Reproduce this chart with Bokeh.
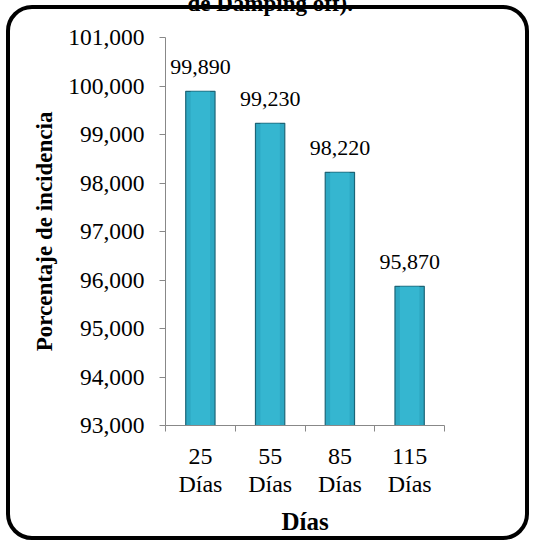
from bokeh.plotting import figure
from bokeh.models import (Range1d, FixedTicker, CustomJSTickFormatter, ColumnDataSource,
                          LabelSet, InlineStyleSheet)
from bokeh.embed import file_html
from bokeh.resources import INLINE

days = ["25", "55", "85", "115"]
day_labels = ["25\nDías", "55\nDías", "85\nDías", "115\nDías"]
incidence = [99.89, 99.23, 98.22, 95.87]
y_ticks = [93, 94, 95, 96, 97, 98, 99, 100, 101]
title_tail = "de Damping off)."

xs = list(range(1, len(days) + 1))
labels = [f"{v:.3f}".replace(".", ",") for v in incidence]
src = ColumnDataSource(dict(x=xs, y=incidence, lab=labels))

FONT = "Liberation Serif"
SHIFT = 37  # part of the canvas pushed above the window (cut-off title)

p = figure(width=534, height=542 + SHIFT, output_backend="svg", toolbar_location=None,
           x_range=Range1d(0.5, len(days) + 0.5), y_range=Range1d(93, 101),
           min_border_left=165, min_border_right=90, min_border_top=37 + SHIFT,
           min_border_bottom=117, title=title_tail)
p.outline_line_color = None
p.grid.visible = False
p.background_fill_color = "white"
p.border_fill_color = "white"

p.title.align = "left"
p.title.offset = 22
p.title.standoff = 43
p.title.text_font = FONT
p.title.text_font_style = "bold"
p.title.text_font_size = "23px"
p.title.text_color = "black"

p.vbar(x="x", top="y", bottom=93, width=0.42, source=src,
       fill_color="#2DA8C3", line_color="#1C6577", line_width=1.2)
p.vbar(x="x", top="y", bottom=93, width=0.28, source=src,
       fill_color="#3EC4DE", line_color=None, fill_alpha=0.5)

p.add_layout(LabelSet(x="x", y="y", text="lab", source=src, text_align="center",
                      text_baseline="bottom", y_offset=17, text_font=FONT,
                      text_font_size="22px", text_color="black"))

# y axis
ya = p.yaxis[0]
ya.ticker = FixedTicker(ticks=y_ticks)
ya.formatter = CustomJSTickFormatter(code="return tick.toFixed(3).replace('.', ',');")
ya.axis_label = "Porcentaje de incidencia"
ya.axis_label_text_font = FONT
ya.axis_label_text_font_style = "bold"
ya.axis_label_text_font_size = "23px"
ya.axis_label_text_color = "black"
ya.axis_label_standoff = 8
ya.major_label_text_font = FONT
ya.major_label_text_font_size = "23.5px"
ya.major_label_text_color = "black"
ya.major_label_standoff = 15
ya.axis_line_color = "#888888"
ya.major_tick_line_color = "#888888"
ya.major_tick_out = 6
ya.major_tick_in = 0
ya.minor_tick_line_color = None

# x axis
xa = p.xaxis[0]
xa.ticker = FixedTicker(ticks=xs, minor_ticks=[i + 0.5 for i in range(len(days) + 1)])
xa.major_label_overrides = {x: l for x, l in zip(xs, day_labels)}
xa.axis_label = "Días"
xa.axis_label_text_font = FONT
xa.axis_label_text_font_style = "bold"
xa.axis_label_text_font_size = "25px"
xa.axis_label_text_color = "black"
xa.axis_label_standoff = 8
xa.major_label_text_font = FONT
xa.major_label_text_font_size = "24px"
xa.major_label_text_line_height = 1.1
xa.major_label_text_color = "black"
xa.major_label_standoff = 11
xa.axis_line_color = "#888888"
xa.major_tick_line_color = None
xa.minor_tick_line_color = "#888888"
xa.minor_tick_out = 6
xa.minor_tick_in = 0

# shift canvas up so the title is cut off like in the reference; rounded outer border
p.styles = {"margin-top": f"-{SHIFT}px"}
p.stylesheets = [InlineStyleSheet(css=f"""
:host {{ position: relative; }}
:host::after {{
  content: ""; position: absolute; left: 6px; top: {5 + SHIFT}px; width: 515px; height: 527px;
  border: 4px solid black; border-radius: 26px; pointer-events: none;
}}
""")]

open("out.html", "w").write(file_html(p, INLINE))
